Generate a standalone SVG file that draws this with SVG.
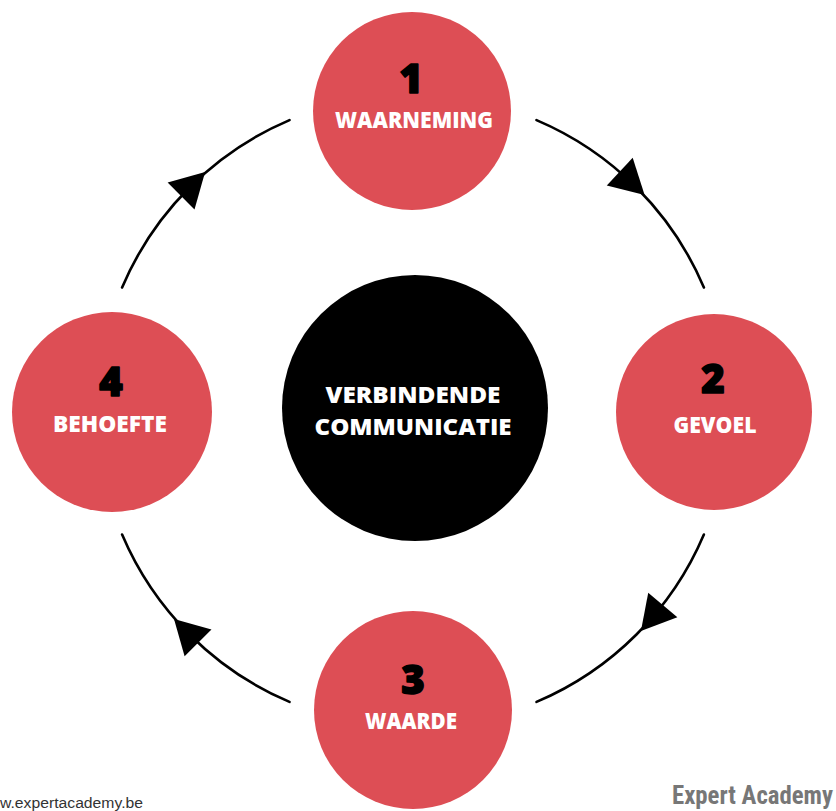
<svg xmlns="http://www.w3.org/2000/svg" width="836" height="811" viewBox="0 0 836 811">
<style>
.node{fill:#DD4E55}
.num{font-family:"Open Sans",Lato,"Liberation Sans",sans-serif;font-weight:800;font-size:40px;fill:#000;stroke:#000;stroke-width:1.6;stroke-linejoin:round;text-anchor:middle}
.lbl{font-family:"Open Sans",Lato,"Liberation Sans",sans-serif;font-weight:800;font-size:23px;fill:#fff;text-anchor:middle}
.arc{fill:none;stroke:#000;stroke-width:2.6;stroke-linecap:round}
.head{fill:#000}
</style>
<defs>
<polygon id="tri" points="22,0 -12,-19 -12,19"/>
</defs>
<rect width="836" height="811" fill="#fff"/>
<g id="connectors">
<path class="arc" d="M536.5,120.1 A316,316 0 0 1 703.9,287.5"/>
<path class="arc" d="M703.9,534.5 A316,316 0 0 1 536.5,701.9"/>
<path class="arc" d="M289.5,701.9 A316,316 0 0 1 122.1,534.5"/>
<path class="arc" d="M122.1,287.5 A316,316 0 0 1 289.5,120.1"/>
<use href="#tri" class="head" transform="rotate(-47 413 411) translate(729 411) rotate(90)"/>
<use href="#tri" class="head" transform="rotate(40 413 411) translate(729 411) rotate(90)"/>
<use href="#tri" class="head" transform="rotate(135 413 411) translate(729 411) rotate(90)"/>
<use href="#tri" class="head" transform="rotate(225 413 411) translate(729 411) rotate(90)"/>
</g>
<g id="center">
<circle cx="415" cy="408" r="133" fill="#000"/>
<text class="lbl" x="413" y="403" textLength="175" lengthAdjust="spacingAndGlyphs">VERBINDENDE</text>
<text class="lbl" x="413" y="435" textLength="197" lengthAdjust="spacingAndGlyphs">COMMUNICATIE</text>
</g>
<g id="node1">
<circle class="node" cx="412" cy="111" r="99"/>
<text class="num" x="411" y="93">1</text>
<text class="lbl" x="414" y="128" textLength="158" lengthAdjust="spacingAndGlyphs">WAARNEMING</text>
</g>
<g id="node2">
<circle class="node" cx="714" cy="412" r="98"/>
<text class="num" x="713" y="393">2</text>
<text class="lbl" x="715" y="433" textLength="83" lengthAdjust="spacingAndGlyphs">GEVOEL</text>
</g>
<g id="node3">
<circle class="node" cx="413" cy="710" r="99"/>
<text class="num" x="413" y="694">3</text>
<text class="lbl" x="411" y="729" textLength="92" lengthAdjust="spacingAndGlyphs">WAARDE</text>
</g>
<g id="node4">
<circle class="node" cx="112" cy="412" r="100"/>
<text class="num" x="111" y="396">4</text>
<text class="lbl" x="110" y="432" textLength="114" lengthAdjust="spacingAndGlyphs">BEHOEFTE</text>
</g>
<text x="0" y="808" font-family="'Liberation Sans',Arial,sans-serif" font-size="14" fill="#333" textLength="143" lengthAdjust="spacingAndGlyphs">w.expertacademy.be</text>
<text x="672" y="804" font-family="'Roboto Condensed','Liberation Sans Narrow','DejaVu Sans Condensed',Roboto,sans-serif" font-weight="bold" font-size="25" fill="#777" textLength="161" lengthAdjust="spacingAndGlyphs">Expert Academy</text>
</svg>
